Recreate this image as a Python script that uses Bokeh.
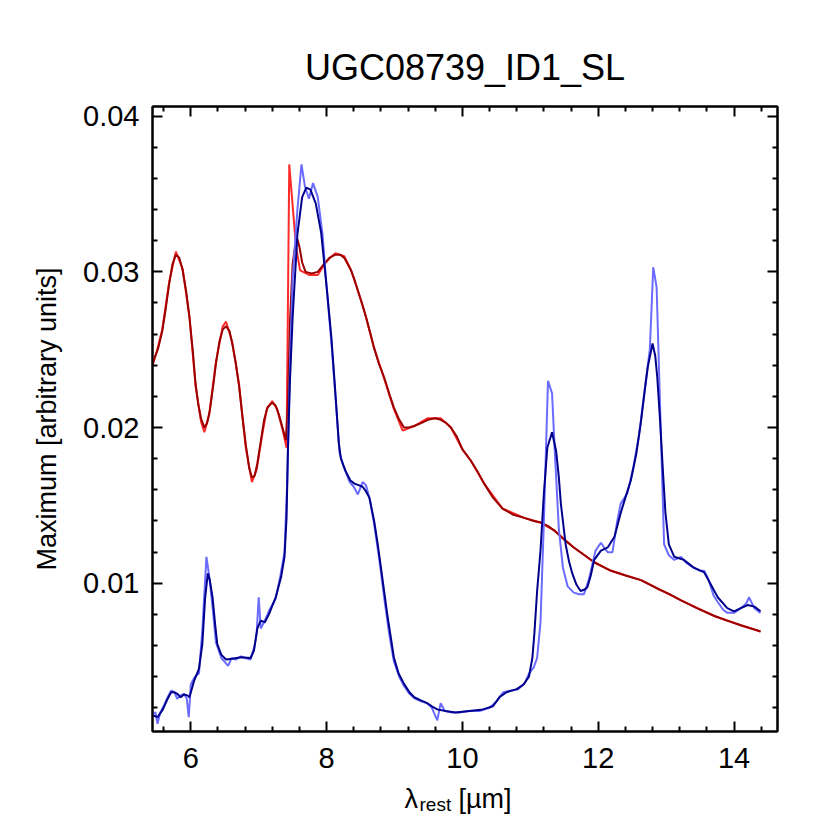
import math
from bokeh.plotting import figure
from bokeh.layouts import column
from bokeh.models import Range1d, FixedTicker, LinearAxis, Label, NumeralTickFormatter
from bokeh.embed import file_html
from bokeh.resources import INLINE

# ---------------- data ----------------
title_text = "UGC08739_ID1_SL"
y_label_text = "Maximum [arbitrary units]"

x_major = [6, 8, 10, 12, 14]
x_minor = [5.6, 6.4, 6.8, 7.2, 7.6, 8.4, 8.8, 9.2, 9.6, 10.4, 10.8, 11.2, 11.6,
           12.4, 12.8, 13.2, 13.6, 14.4]
y_major = [0.01, 0.02, 0.03, 0.04]
y_minor = [0.002, 0.004, 0.006, 0.008, 0.012, 0.014, 0.016, 0.018, 0.022, 0.024,
           0.026, 0.028, 0.032, 0.034, 0.036, 0.038]

red_raw_x = [5.42, 5.50, 5.58, 5.68, 5.78, 5.88, 5.98, 6.07, 6.15, 6.20, 6.27, 6.37,
             6.47, 6.52, 6.61, 6.71, 6.81, 6.90, 6.97, 7.05, 7.12, 7.20, 7.27, 7.35,
             7.41, 7.45, 7.55, 7.61, 7.74, 7.87, 7.97, 8.05, 8.13, 8.26, 8.36, 8.46,
             8.58, 8.70, 8.85, 8.99, 9.12, 9.29, 9.49, 9.68, 9.83, 10.00, 10.12, 10.32,
             10.59, 10.91, 11.15, 11.35, 11.64, 11.94, 12.19, 12.63, 13.22, 13.71,
             14.10, 14.39]
red_raw_y = [0.0238, 0.0249, 0.0263, 0.0293, 0.0313, 0.0302, 0.0271, 0.0227, 0.0204,
             0.0197, 0.0208, 0.0242, 0.0265, 0.0268, 0.0255, 0.0228, 0.0187, 0.0165,
             0.0173, 0.0195, 0.0212, 0.0217, 0.0212, 0.0199, 0.0187, 0.0369, 0.0316,
             0.0301, 0.0298, 0.0298, 0.0305, 0.0309, 0.0312, 0.0310, 0.0301, 0.0288,
             0.0271, 0.0251, 0.0231, 0.0212, 0.0198, 0.0201, 0.0206, 0.0206, 0.0200,
             0.0186, 0.0179, 0.0164, 0.0148, 0.0142, 0.0139, 0.0134, 0.0123, 0.01135,
             0.0108, 0.0102, 0.0089, 0.0079, 0.0073, 0.0069]

red_fit_x = [5.42, 5.47, 5.52, 5.58, 5.63, 5.68, 5.73, 5.78, 5.83, 5.88, 5.93, 5.98,
             6.03, 6.07, 6.11, 6.15, 6.20, 6.24, 6.28, 6.33, 6.37, 6.42, 6.47, 6.52,
             6.57, 6.61, 6.66, 6.71, 6.76, 6.81, 6.86, 6.90, 6.94, 6.98, 7.03, 7.08,
             7.13, 7.20, 7.25, 7.30, 7.35, 7.40, 7.43, 7.46, 7.50, 7.54, 7.57, 7.60,
             7.64, 7.69, 7.78, 7.87, 7.96, 8.04, 8.13, 8.20, 8.26, 8.31, 8.36, 8.41,
             8.46, 8.52, 8.58, 8.64, 8.70, 8.77, 8.85, 8.92, 8.99, 9.07, 9.14, 9.21,
             9.29, 9.40, 9.49, 9.60, 9.68, 9.76, 9.83, 9.92, 10.00, 10.12, 10.22,
             10.32, 10.45, 10.59, 10.75, 10.91, 11.05, 11.15, 11.25, 11.35, 11.50,
             11.64, 11.80, 11.94, 12.05, 12.19, 12.40, 12.63, 12.90, 13.05, 13.22,
             13.45, 13.71, 13.90, 14.10, 14.25, 14.39]
red_fit_y = [0.0238, 0.0245, 0.0251, 0.0262, 0.0276, 0.0292, 0.0305, 0.0311, 0.0309,
             0.0301, 0.0288, 0.0271, 0.0249, 0.0228, 0.0215, 0.0206, 0.0200, 0.0203,
             0.0211, 0.0227, 0.0241, 0.0255, 0.0263, 0.0265, 0.0262, 0.0254, 0.0242,
             0.0227, 0.0207, 0.0189, 0.0174, 0.0168, 0.0169, 0.0177, 0.0191, 0.0205,
             0.0213, 0.0216, 0.0214, 0.0208, 0.0200, 0.0192, 0.0215, 0.0268, 0.0305,
             0.0318, 0.0321, 0.0316, 0.0306, 0.0300, 0.0299, 0.0300, 0.0305, 0.0309,
             0.0311, 0.0311, 0.0309, 0.0305, 0.0301, 0.0295, 0.0288, 0.0280, 0.0271,
             0.0261, 0.0251, 0.0241, 0.0232, 0.0222, 0.0213, 0.0205, 0.0200, 0.0200,
             0.0201, 0.0203, 0.0205, 0.0206, 0.0205, 0.0203, 0.0200, 0.0194, 0.0186,
             0.0179, 0.0172, 0.0164, 0.0155, 0.0148, 0.0144, 0.0142, 0.0140, 0.0139,
             0.0137, 0.0134, 0.0128, 0.0123, 0.0118, 0.01135, 0.0111, 0.0108, 0.0105,
             0.0102, 0.0096, 0.0093, 0.0089, 0.0084, 0.0079, 0.0076, 0.0073, 0.0071,
             0.0069]

blue_raw_x = [5.42, 5.48, 5.51, 5.55, 5.60, 5.65, 5.71, 5.76, 5.80, 5.85, 5.90, 5.94,
              5.97, 6.00, 6.06, 6.12, 6.17, 6.23, 6.27, 6.32, 6.37, 6.45, 6.55, 6.60,
              6.66, 6.74, 6.80, 6.88, 6.94, 6.97, 7.00, 7.03, 7.09, 7.16, 7.25, 7.32,
              7.38, 7.42, 7.46, 7.50, 7.57, 7.63, 7.68, 7.74, 7.80, 7.87, 7.94, 8.01,
              8.07, 8.13, 8.19, 8.25, 8.34, 8.40, 8.46, 8.53, 8.58, 8.64, 8.70, 8.78,
              8.85, 8.92, 8.99, 9.07, 9.14, 9.22, 9.30, 9.40, 9.48, 9.55, 9.63, 9.68,
              9.74, 9.85, 9.95, 10.10, 10.25, 10.40, 10.50, 10.60, 10.70, 10.82, 10.92,
              10.98, 11.05, 11.10, 11.15, 11.20, 11.26, 11.32, 11.36, 11.42, 11.48,
              11.55, 11.64, 11.72, 11.79, 11.86, 11.96, 12.04, 12.10, 12.14, 12.21,
              12.28, 12.33, 12.43, 12.52, 12.60, 12.70, 12.76, 12.81, 12.86, 12.97,
              13.04, 13.12, 13.22, 13.30, 13.40, 13.50, 13.56, 13.62, 13.70, 13.76,
              13.84, 13.90, 14.00, 14.10, 14.18, 14.22, 14.30, 14.39]
blue_raw_y = [0.0016, 0.0017, 0.00098, 0.0017, 0.0021, 0.0026, 0.0031, 0.0030, 0.00258,
              0.0028, 0.0029, 0.0026, 0.0014, 0.0035, 0.0040, 0.0042, 0.0070, 0.0117,
              0.0105, 0.0085, 0.0062, 0.0052, 0.0047, 0.0052, 0.0051, 0.0053, 0.0052,
              0.0051, 0.0060, 0.0068, 0.0091, 0.0071, 0.0076, 0.0083, 0.0090, 0.0105,
              0.0120, 0.0165, 0.0240, 0.0296, 0.0340, 0.0369, 0.0355, 0.0347, 0.0357,
              0.0348, 0.0324, 0.0285, 0.0255, 0.0220, 0.0184, 0.0175, 0.0165, 0.0162,
              0.0157, 0.0165, 0.0163, 0.0153, 0.0138, 0.0114, 0.0090, 0.0068, 0.0050,
              0.0040, 0.0034, 0.0029, 0.0026, 0.0024, 0.0023, 0.0020, 0.0012, 0.0023,
              0.0018, 0.0017, 0.0017, 0.0018, 0.0018, 0.0020, 0.0024, 0.0030, 0.0031,
              0.0032, 0.0036, 0.0042, 0.0046, 0.0052, 0.0075, 0.0140, 0.0230, 0.0222,
              0.0185, 0.0135, 0.0110, 0.0098, 0.0094, 0.0093, 0.0093, 0.0102, 0.0121,
              0.0126, 0.0122, 0.0120, 0.0120, 0.0140, 0.0151, 0.0158, 0.0175, 0.0195,
              0.0230, 0.0250, 0.0303, 0.0290, 0.0125, 0.0118, 0.0115, 0.0117, 0.0113,
              0.0110, 0.0108, 0.0108, 0.0103, 0.0092, 0.0088, 0.0083, 0.0081, 0.0081,
              0.0084, 0.0087, 0.0091, 0.0084, 0.0081]

blue_fit_x = [5.42, 5.51, 5.58, 5.65, 5.71, 5.76, 5.80, 5.85, 5.90, 5.95, 5.98, 6.05,
              6.12, 6.17, 6.21, 6.25, 6.28, 6.32, 6.36, 6.39, 6.45, 6.52, 6.61, 6.74,
              6.88, 6.93, 6.98, 7.03, 7.09, 7.15, 7.25, 7.33, 7.38, 7.41, 7.43, 7.46,
              7.50, 7.57, 7.64, 7.70, 7.76, 7.84, 7.92, 8.01, 8.07, 8.12, 8.18, 8.21,
              8.28, 8.35, 8.41, 8.47, 8.53, 8.58, 8.63, 8.70, 8.75, 8.80, 8.85, 8.90,
              8.95, 8.99, 9.06, 9.14, 9.22, 9.29, 9.38, 9.48, 9.55, 9.63, 9.75, 9.90,
              10.10, 10.30, 10.45, 10.55, 10.65, 10.80, 10.90, 10.98, 11.03, 11.06,
              11.10, 11.15, 11.20, 11.25, 11.32, 11.38, 11.42, 11.45, 11.52, 11.57,
              11.62, 11.68, 11.74, 11.80, 11.84, 11.89, 11.94, 12.04, 12.14, 12.24,
              12.33, 12.40, 12.48, 12.56, 12.63, 12.68, 12.73, 12.80, 12.84, 12.87,
              12.91, 12.95, 12.99, 13.04, 13.12, 13.26, 13.41, 13.56, 13.66, 13.76,
              13.90, 14.00, 14.10, 14.20, 14.30, 14.39]
blue_fit_y = [0.00155, 0.0014, 0.00183, 0.0025, 0.0030, 0.0030, 0.0029, 0.00268,
              0.00286, 0.0028, 0.00268, 0.00375, 0.0045, 0.0061, 0.0090, 0.01064,
              0.0102, 0.0091, 0.0073, 0.0061, 0.0054, 0.0051, 0.00515, 0.00525, 0.0052,
              0.00568, 0.0071, 0.0076, 0.0075, 0.0080, 0.0091, 0.0104, 0.0117, 0.0142,
              0.0185, 0.0230, 0.0271, 0.0324, 0.0348, 0.0354, 0.0353, 0.0344, 0.0325,
              0.0286, 0.0258, 0.0228, 0.0190, 0.0180, 0.0172, 0.0166, 0.0164, 0.0163,
              0.0162, 0.0159, 0.0155, 0.0140, 0.0126, 0.0110, 0.0094, 0.0078, 0.0064,
              0.00525, 0.0042, 0.00354, 0.0030, 0.00268, 0.0025, 0.0023, 0.0021, 0.0019,
              0.0018, 0.0017, 0.0018, 0.0019, 0.0021, 0.0027, 0.0030, 0.0032, 0.0035,
              0.0040, 0.0052, 0.0068, 0.0095, 0.0121, 0.0158, 0.0187, 0.0197, 0.0185,
              0.0168, 0.0151, 0.0125, 0.0114, 0.0106, 0.0099, 0.0095, 0.0096, 0.00975,
              0.0105, 0.0115, 0.0121, 0.0123, 0.0130, 0.0145, 0.0155, 0.0166, 0.0183,
              0.0204, 0.0222, 0.0239, 0.0254, 0.0246, 0.0232, 0.0205, 0.0174, 0.0145,
              0.0125, 0.0117, 0.0115, 0.0110, 0.0107, 0.0099, 0.0091, 0.0084, 0.0082,
              0.0084, 0.0086, 0.0085, 0.0082]

# ---------------- layout ----------------
X0, X1 = 5.436, 14.64
Y0, Y1 = 0.00048, 0.04062
W = 822
FL, FT, FS = 152, 106, 625
HM = 785          # main figure height
HL = 42           # x-label strip height
FONT = "Liberation Sans"


def px2x(page_x):
    return X0 + (page_x - FL) / FS * (X1 - X0)


p = figure(width=W, height=HM, x_range=Range1d(X0, X1), y_range=Range1d(Y0, Y1),
           output_backend="svg", toolbar_location=None,
           x_axis_type=None, y_axis_type=None,
           min_border_left=FL, min_border_right=W - FL - FS,
           min_border_top=FT, min_border_bottom=HM - FT - FS)
p.outline_line_color = "black"
p.outline_line_width = 2
p.background_fill_color = "white"
p.border_fill_color = "white"

p.title.text = title_text
p.title.align = "center"
p.title.text_font = FONT
p.title.text_font_size = "36px"
p.title.text_font_style = "normal"
p.title.text_color = "black"
p.title.standoff = 38


def make_axis(ticks, minor, show_labels):
    ax = LinearAxis(ticker=FixedTicker(ticks=ticks, minor_ticks=minor))
    ax.axis_line_color = "black"
    ax.axis_line_width = 2
    ax.major_tick_in = 10
    ax.major_tick_out = 0
    ax.minor_tick_in = 5
    ax.minor_tick_out = 0
    ax.major_tick_line_width = 2
    ax.minor_tick_line_width = 2
    ax.major_tick_line_color = "black"
    ax.minor_tick_line_color = "black"
    ax.major_label_text_font = FONT
    ax.major_label_text_font_size = "29px"
    ax.major_label_text_color = "black"
    if not show_labels:
        ax.major_label_overrides = {t: "" for t in ticks}
        ax.major_label_standoff = 0
    return ax


bx = make_axis(x_major, x_minor, True)
bx.major_label_standoff = 16
p.add_layout(bx, "below")
ly = make_axis(y_major, y_minor, True)
ly.formatter = NumeralTickFormatter(format="0.00")
ly.major_label_standoff = 13
ly.axis_label = y_label_text
ly.axis_label_text_font = FONT
ly.axis_label_text_font_size = "27px"
ly.axis_label_text_font_style = "normal"
ly.axis_label_text_color = "black"
ly.axis_label_standoff = 18
p.add_layout(ly, "left")
p.add_layout(make_axis(x_major, x_minor, False), "above")
p.add_layout(make_axis(y_major, y_minor, False), "right")

p.line(red_raw_x, red_raw_y, line_color="#ff2a2a", line_width=2)
p.line(red_fit_x, red_fit_y, line_color="#9a0000", line_width=2)
p.line(blue_raw_x, blue_raw_y, line_color="#6b6bff", line_width=2)
p.line(blue_fit_x, blue_fit_y, line_color="#00008c", line_width=2)

# x-axis label strip (lambda with subscript "rest"); its frame lines up with the plot's
q = figure(width=W, height=HL, x_range=Range1d(X0, X1), y_range=Range1d(0, HL),
           output_backend="svg", toolbar_location=None,
           x_axis_type=None, y_axis_type=None,
           min_border_left=FL, min_border_right=W - FL - FS,
           min_border_top=0, min_border_bottom=0)
q.outline_line_color = None
q.background_fill_color = "white"
q.border_fill_color = "white"


def strip_y(page_y):
    return HL - (page_y - HM)


q.add_layout(Label(x=px2x(404), y=strip_y(798), text="λ", text_align="left",
                   text_baseline="alphabetic", text_font=FONT, text_font_size="27px",
                   text_color="black"))
q.add_layout(Label(x=px2x(419), y=strip_y(804), text="rest", text_align="left",
                   text_baseline="alphabetic", text_font=FONT, text_font_size="19px",
                   text_color="black"))
q.add_layout(Label(x=px2x(458), y=strip_y(798), text="[µm]", text_align="left",
                   text_baseline="alphabetic", text_font=FONT, text_font_size="27px",
                   text_color="black"))

layout = column(p, q, spacing=0)
open("out.html", "w").write(file_html(layout, INLINE))
